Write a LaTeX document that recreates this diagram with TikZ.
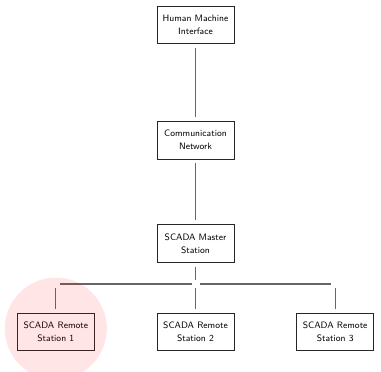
\documentclass[tikz,border=0pt]{standalone}
\usepackage{tikz}
\usetikzlibrary{positioning}

\begin{document}
\begin{tikzpicture}[
    x=1pt, y=-1pt,
    every node/.style={font=\sffamily\fontsize{9.3pt}{13pt}\selectfont},
    box/.style={draw=black!85, line width=0.7pt, minimum width=77pt, minimum height=37.5pt, inner sep=2pt, align=center},
    link/.style={draw=black!60, line width=1.1pt, shorten <=4pt, shorten >=4pt}
]
\useasboundingbox (0,0) rectangle (381,372);
\node[box] (hmi) at (195.5,25) {Human Machine\\Interface};
\node[box, below=77pt of hmi] (comm) {Communication\\Network};
\node[box, below=65pt of comm] (master) {SCADA Master\\Station};
\node[box, below=50pt of master] (rs2) {SCADA Remote\\Station 2};
\node[box, left=62pt of rs2] (rs1) {SCADA Remote\\Station 1};
\node[box, right=62pt of rs2] (rs3) {SCADA Remote\\Station 3};
\coordinate (bus) at (master |- 0,284);
\coordinate (bus1) at (rs1 |- bus);
\coordinate (bus3) at (rs3 |- bus);
\draw[link] (hmi) -- (comm);
\draw[link] (comm) -- (master);
\draw[link] (master) -- (bus);
\draw[link] (bus) -- (bus1);
\draw[link] (bus) -- (bus3);
\draw[link] (bus) -- (rs2);
\draw[link] (bus1) -- (rs1);
\draw[link] (bus3) -- (rs3);
% highlight of the first remote station
\fill[red, fill opacity=0.1] (rs1.center) ++(0,-3) circle (51pt);
\end{tikzpicture}
\end{document}
